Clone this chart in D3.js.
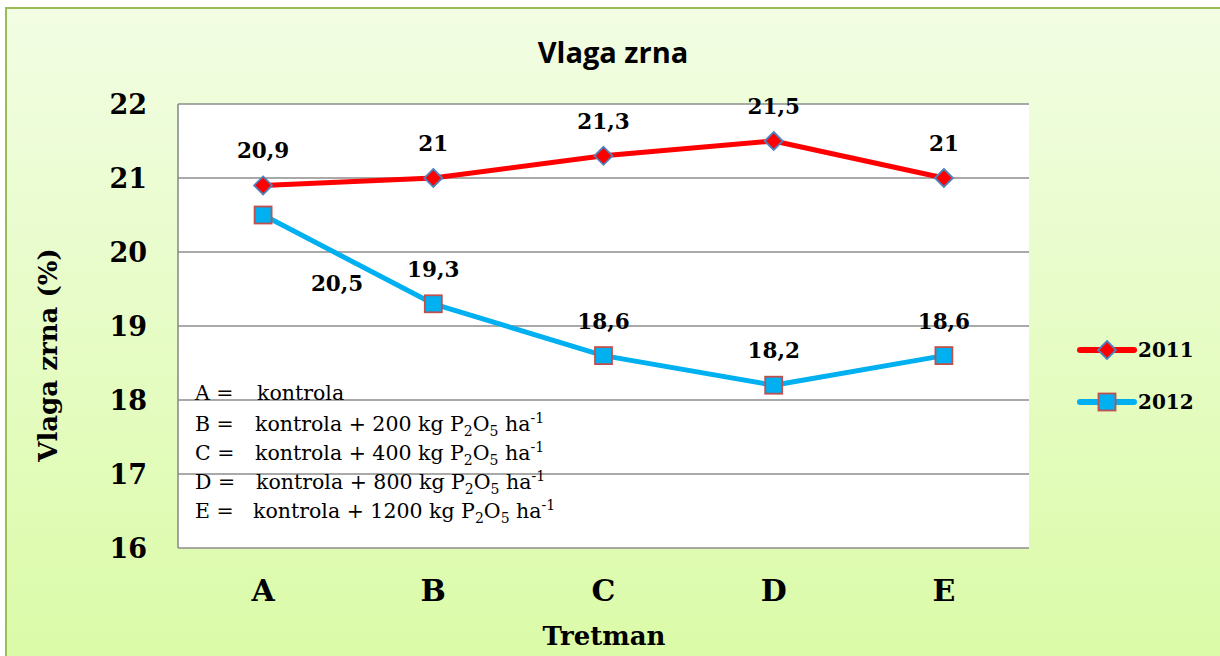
<!DOCTYPE html>
<html><head><meta charset="utf-8">
<script src="https://cdn.jsdelivr.net/npm/d3@7"></script>
<style>
html,body{margin:0;padding:0;background:#fff;}
svg{display:block;}
.serif{font-family:"DejaVu Serif","Noto Serif","Liberation Serif",serif;}
.sans{font-family:"Open Sans","Noto Sans",sans-serif;}
</style></head>
<body>
<svg id="chart" width="1220" height="656"></svg>
<script>
const categories = ["A", "B", "C", "D", "E"];
const values2011 = [20.9, 21, 21.3, 21.5, 21];
const values2012 = [20.5, 19.3, 18.6, 18.2, 18.6];
const yTicks = [16, 17, 18, 19, 20, 21, 22];
const seriesNames = ["2011", "2012"];
const treatmentNotes = [
  {key: "A =", text: "kontrola", dose: null},
  {key: "B =", text: "kontrola + ", dose: "200"},
  {key: "C =", text: "kontrola + ", dose: "400"},
  {key: "D =", text: "kontrola + ", dose: "800"},
  {key: "E =", text: "kontrola + ", dose: "1200"}
];

const svg = d3.select("#chart");

// background
const defs = svg.append("defs");
const grad = defs.append("linearGradient").attr("id", "bg").attr("x1", 0).attr("y1", 0).attr("x2", 0).attr("y2", 1);
grad.append("stop").attr("offset", "0%").attr("stop-color", "#F2FDE3");
grad.append("stop").attr("offset", "100%").attr("stop-color", "#DAFBA6");
svg.append("rect").attr("x", 0).attr("y", 0).attr("width", 1220).attr("height", 656).attr("fill", "#fff");
svg.append("rect").attr("x", 6).attr("y", 8).attr("width", 1230).attr("height", 670)
  .attr("fill", "url(#bg)").attr("stroke", "#9BBB59").attr("stroke-width", 2);

const plot = {left: 178, right: 1029, top: 104, bottom: 548};

const x = d3.scaleBand().domain(categories).range([plot.left, plot.right]).padding(0);
const y = d3.scaleLinear().domain([16, 22]).range([plot.bottom, plot.top]);
const cx = d => x(d) + x.bandwidth() / 2;

// plot area
svg.append("rect").attr("x", plot.left).attr("y", plot.top)
  .attr("width", plot.right - plot.left).attr("height", plot.bottom - plot.top).attr("fill", "#fff");

// gridlines
svg.append("g").selectAll("line").data(yTicks).join("line")
  .attr("x1", plot.left).attr("x2", plot.right)
  .attr("y1", d => y(d)).attr("y2", d => y(d))
  .attr("stroke", "#8C8C8C").attr("stroke-width", 1.6);
svg.append("line").attr("x1", plot.left).attr("x2", plot.left).attr("y1", plot.top).attr("y2", plot.bottom)
  .attr("stroke", "#8C8C8C").attr("stroke-width", 1.6);

// y tick labels
svg.append("g").selectAll("text").data(yTicks).join("text").attr("class", "serif")
  .attr("x", 147).attr("y", d => y(d)).attr("dy", "0.36em")
  .attr("text-anchor", "end").attr("font-weight", "bold")
  .attr("font-size", 27).attr("fill", "#000").text(d => d);

// x tick labels
svg.append("g").selectAll("text").data(categories).join("text").attr("class", "serif")
  .attr("x", d => cx(d)).attr("y", 601)
  .attr("text-anchor", "middle").attr("font-weight", "bold")
  .attr("font-size", 30).attr("fill", "#000").text(d => d);

// axis titles
svg.append("text").attr("class", "serif").attr("x", 604).attr("y", 645).attr("text-anchor", "middle")
  .attr("font-weight", "bold").attr("font-size", 26).text("Tretman");
svg.append("text").attr("class", "serif").attr("transform", "translate(57,355) rotate(-90)").attr("text-anchor", "middle")
  .attr("font-weight", "bold").attr("font-size", 26).text("Vlaga zrna (%)");

// title
svg.append("text").attr("class", "sans").attr("x", 613).attr("y", 63).attr("text-anchor", "middle")
  .attr("font-weight", "bold").attr("font-size", 29).attr("fill", "#000").text("Vlaga zrna");

// treatment notes
const notes = svg.append("g").attr("class", "serif").attr("font-size", 20.5).attr("fill", "#000");
const noteY = [400, 431, 460, 489, 518];
const keyX = 195, textX = [257, 255, 255, 256, 253];
treatmentNotes.forEach((n, i) => {
  notes.append("text").attr("x", keyX).attr("y", noteY[i]).text(n.key);
  const t = notes.append("text").attr("x", textX[i]).attr("y", noteY[i]);
  t.append("tspan").text(n.text);
  if (n.dose) {
    t.append("tspan").text(n.dose + " kg P");
    t.append("tspan").attr("font-size", 14).attr("dy", 5).text("2");
    t.append("tspan").attr("dy", -5).text("O");
    t.append("tspan").attr("font-size", 14).attr("dy", 5).text("5");
    t.append("tspan").attr("dy", -5).text(" ha");
    t.append("tspan").attr("font-size", 14).attr("dy", -8).text("-1");
  }
});

// lines
const line = d3.line().x((d, i) => cx(categories[i])).y(d => y(d));
const series = [
  {name: seriesNames[0], values: values2011, color: "#FF0000", marker: "diamond", mfill: "#FF0000", mstroke: "#4F81BD"},
  {name: seriesNames[1], values: values2012, color: "#00B0F0", marker: "square", mfill: "#00B0F0", mstroke: "#C0504D"}
];

function drawMarker(g, type, px, py, fill, stroke) {
  if (type === "diamond") {
    const r = 9;
    g.append("path").attr("d", `M${px},${py - r}L${px + r},${py}L${px},${py + r}L${px - r},${py}Z`)
      .attr("fill", fill).attr("stroke", stroke).attr("stroke-width", 1.8);
  } else {
    const s = 17;
    g.append("rect").attr("x", px - s / 2).attr("y", py - s / 2).attr("width", s).attr("height", s)
      .attr("fill", fill).attr("stroke", stroke).attr("stroke-width", 1.8);
  }
}

series.forEach(s => {
  svg.append("path").datum(s.values).attr("d", line).attr("fill", "none")
    .attr("stroke", s.color).attr("stroke-width", 5).attr("stroke-linejoin", "round");
});
series.forEach(s => {
  const g = svg.append("g");
  s.values.forEach((v, i) => drawMarker(g, s.marker, cx(categories[i]), y(v), s.mfill, s.mstroke));
});

// data labels
const fmt = v => String(v).replace(".", ",");
series.forEach((s, si) => {
  s.values.forEach((v, i) => {
    let lx = cx(categories[i]), ly = y(v) - 27;
    if (si === 1 && i === 0) { lx = lx + 74; ly = y(v) + 76; }
    svg.append("text").attr("class", "serif").attr("x", lx).attr("y", ly).attr("text-anchor", "middle")
      .attr("font-weight", "bold").attr("font-size", 21.5)
      .attr("fill", "#000").text(fmt(v));
  });
});

// legend
const legY = [350, 402];
series.forEach((s, i) => {
  const g = svg.append("g");
  g.append("line").attr("x1", 1080).attr("x2", 1134).attr("y1", legY[i]).attr("y2", legY[i])
    .attr("stroke", s.color).attr("stroke-width", 6).attr("stroke-linecap", "round");
  drawMarker(g, s.marker, 1107, legY[i], s.mfill, s.mstroke);
  g.append("text").attr("class", "serif").attr("x", 1138).attr("y", legY[i]).attr("dy", "0.36em")
    .attr("font-weight", "bold").attr("font-size", 20).text(s.name);
});
</script>
</body></html>
